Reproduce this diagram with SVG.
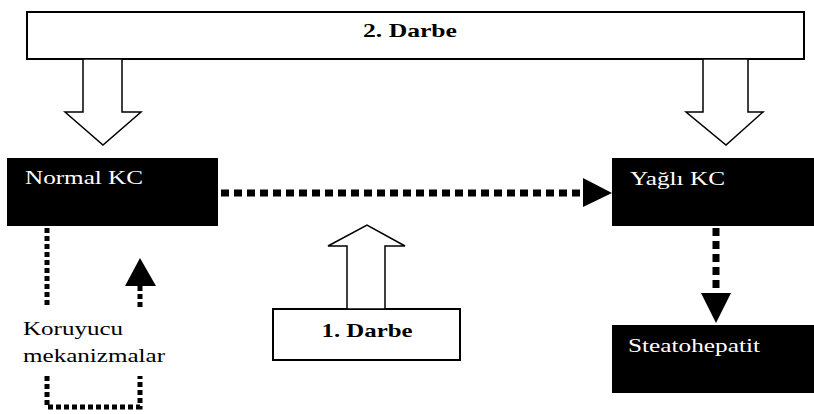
<svg xmlns="http://www.w3.org/2000/svg" width="814" height="414" viewBox="0 0 814 414">
<defs>
<style>
.box{fill:#fff;stroke:#000;stroke-width:2}
.dark{fill:#000}
.hollow{fill:#fff;stroke:#000;stroke-width:1.5;stroke-linejoin:miter}
text{font-family:'Liberation Serif','DejaVu Serif','Times New Roman',Times,serif;lengthAdjust:spacingAndGlyphs}
.t{font-size:19px}
.tb{font-size:19px;font-weight:bold;text-anchor:middle}
.w{fill:#fff}
.thick{fill:none;stroke:#000;stroke-width:7;stroke-dasharray:8 5}
.thin{fill:none;stroke:#000;stroke-width:5;stroke-dasharray:5 3}
</style>
</defs>
<rect width="814" height="414" fill="#fff"/>
<g id="darbe2">
<rect class="box" x="27" y="12" width="777" height="47"/>
<text class="tb" x="410" y="37" textLength="94" lengthAdjust="spacingAndGlyphs">2. Darbe</text>
</g>
<g id="normal">
<rect class="dark" x="7" y="158" width="211" height="68"/>
<text class="t w" x="25" y="184" textLength="118" lengthAdjust="spacingAndGlyphs">Normal KC</text>
</g>
<g id="yagli">
<rect class="dark" x="612" y="158" width="202" height="68"/>
<text class="t w" x="630" y="185" textLength="95" lengthAdjust="spacingAndGlyphs">Yağlı KC</text>
</g>
<g id="steato">
<rect class="dark" x="612" y="325" width="202" height="68"/>
<text class="t w" x="628" y="352" textLength="132" lengthAdjust="spacingAndGlyphs">Steatohepatit</text>
</g>
<g id="darbe1">
<rect class="box" x="273" y="309" width="187" height="51"/>
<text class="tb" x="367" y="337" textLength="91" lengthAdjust="spacingAndGlyphs">1. Darbe</text>
</g>
<g id="koruyucu">
<text class="t" x="23" y="335" textLength="100" lengthAdjust="spacingAndGlyphs">Koruyucu</text>
<text class="t" x="23" y="362" textLength="142" lengthAdjust="spacingAndGlyphs">mekanizmalar</text>
</g>
<g id="connectors">
<polygon class="hollow" points="83,59 122,59 122,112 141,112 103,145 65,112 83,112"/>
<polygon class="hollow" points="703,59 748,59 748,112 763,112 726,145 686,112 703,112"/>
<polygon class="hollow" points="347,309 385,309 385,246 405,246 367,225 328,246 347,246"/>
<line class="thick" x1="221" y1="193" x2="583" y2="193"/>
<polygon points="583,178 612,193 583,207"/>
<line class="thick" x1="716" y1="228" x2="716" y2="294"/>
<polygon points="701,293 731,293 716,323"/>
<line class="thin" x1="47" y1="228" x2="47" y2="307"/>
<line class="thin" x1="140" y1="307" x2="140" y2="283"/>
<polygon points="125,286 156,286 140,258"/>
<polyline class="thin" points="47,376 47,407 140,407 140,376"/>
</g>
</svg>
